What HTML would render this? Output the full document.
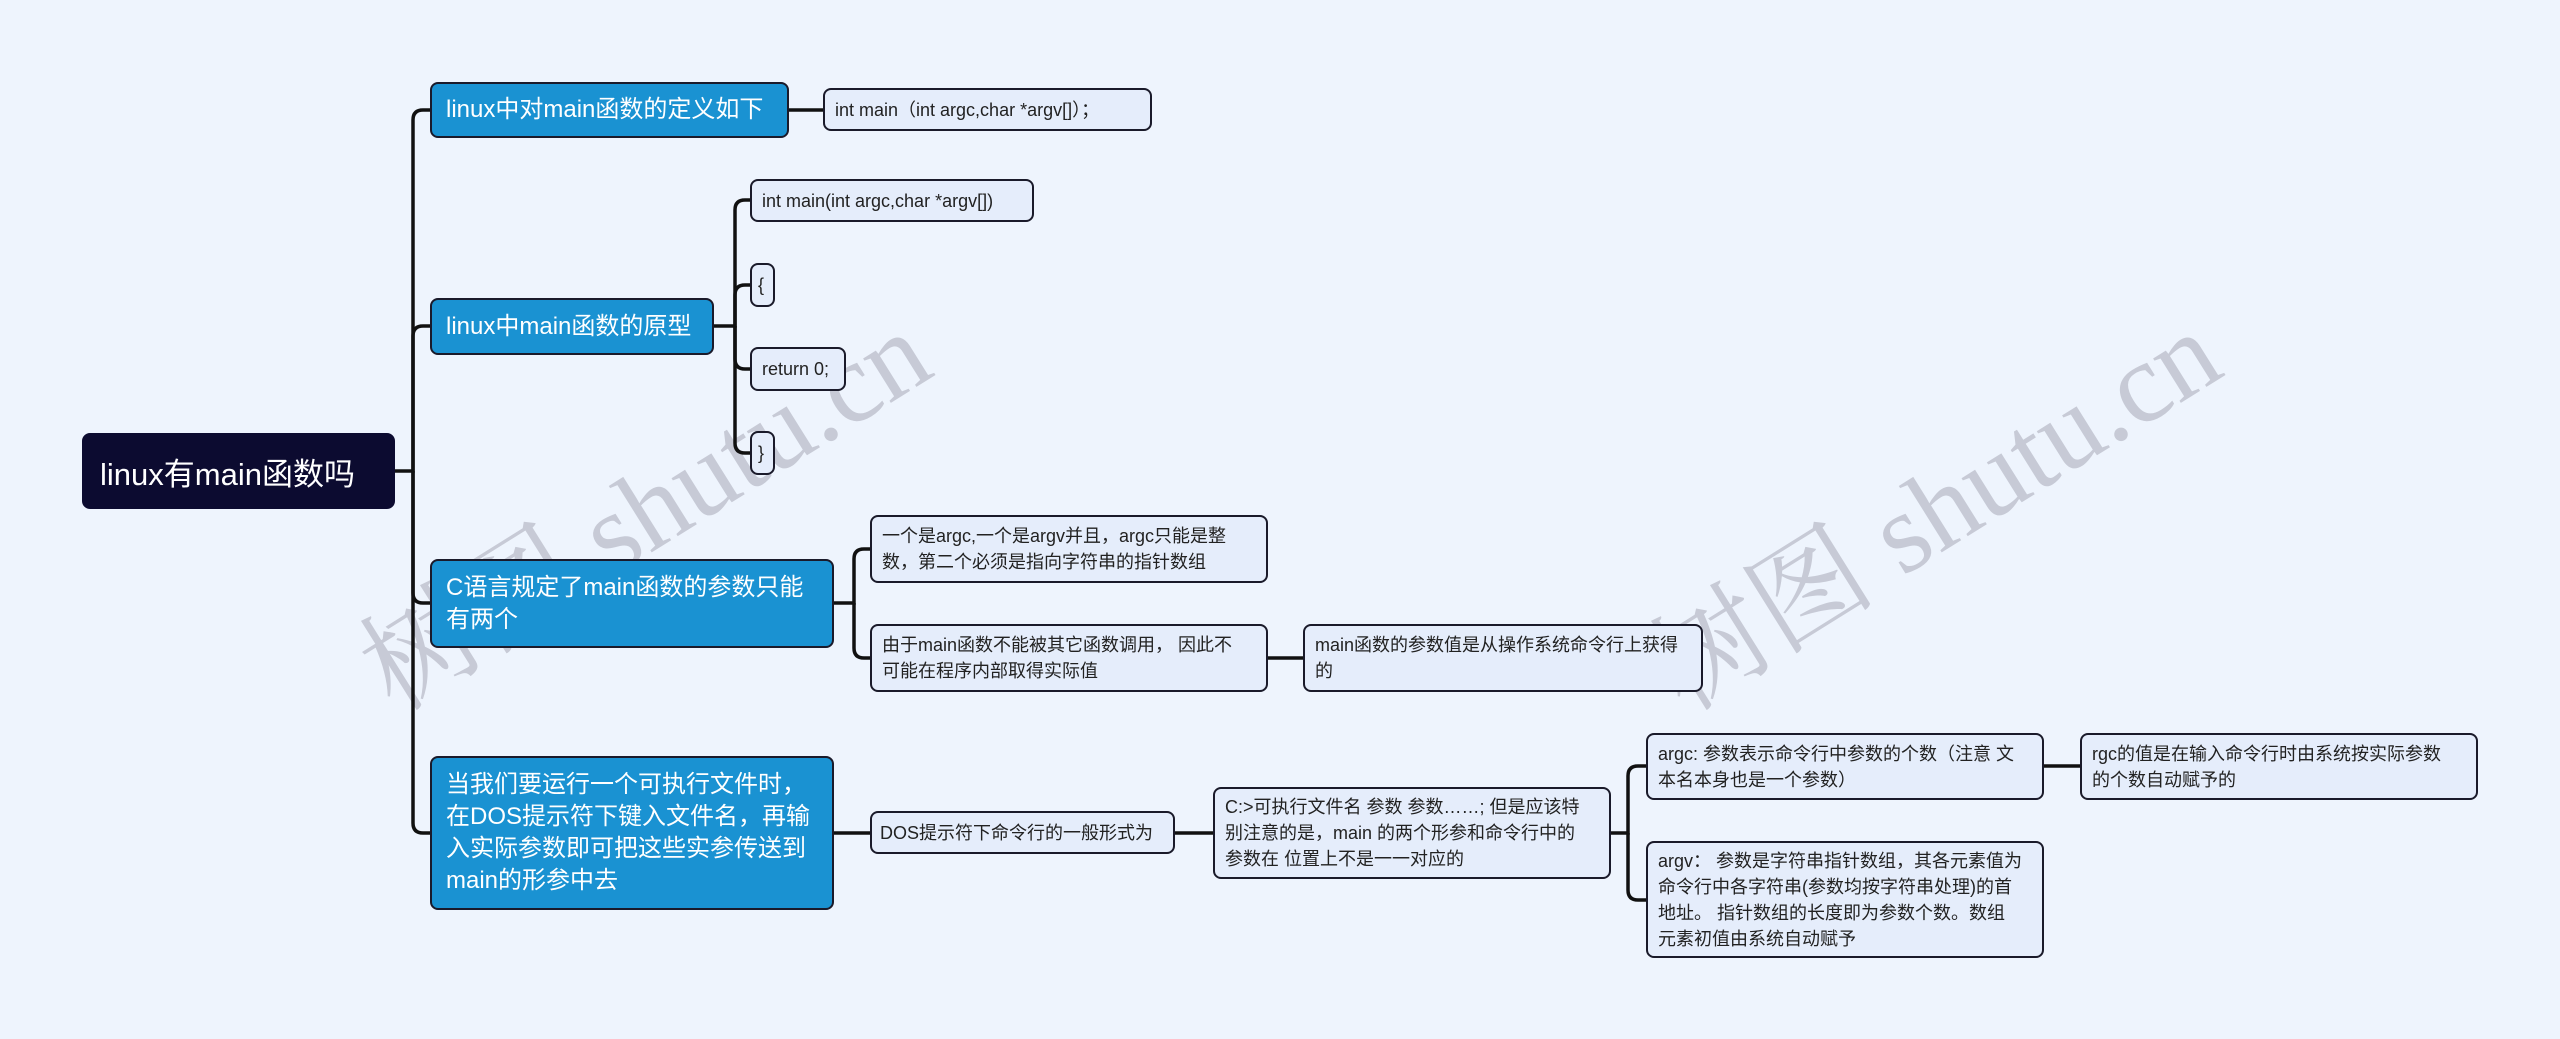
<!DOCTYPE html>
<html><head><meta charset="utf-8"><style>
body{margin:0;width:2560px;height:1039px;background:#eef4fd;position:relative;overflow:hidden;font-family:"Liberation Sans","Noto Sans CJK SC",sans-serif;}
.n{position:absolute;box-sizing:border-box;border:2px solid #1a1a2a;border-radius:8px;display:flex;align-items:center;}
.r{background:#0c0b30;color:#fff;font-size:31px;padding-left:16px;border-color:#0c0b30;}
.l1{background:#1a92d2;color:#fff;font-size:24px;line-height:32px;padding:0 14px;}
.c{background:#e5edfb;color:#222;font-size:18px;line-height:26px;padding:0 20px 0 10px;}
.wm{position:absolute;font-family:"Liberation Serif","Noto Serif CJK SC",serif;font-size:114px;color:rgba(140,140,155,0.4);transform:rotate(-32deg);white-space:nowrap;}
</style></head><body>
<div class="wm" style="left:320px;top:420px;">树图 shutu.cn</div>
<div class="wm" style="left:1610px;top:420px;">树图 shutu.cn</div>
<svg width="2560" height="1039" style="position:absolute;left:0;top:0" fill="none" stroke="#111" stroke-width="3.5">
<path d="M395 471H413V120Q413 110 423 110H431"/>
<path d="M413 471V336Q413 326 423 326H431"/>
<path d="M413 471V593Q413 603 423 603H431"/>
<path d="M413 471V823Q413 833 423 833H431"/>
<path d="M789 110H823"/>
<path d="M714 326H735V210Q735 200 745 200H750"/>
<path d="M735 326V295Q735 285 745 285H750"/>
<path d="M735 326V359Q735 369 745 369H750"/>
<path d="M735 326V443Q735 453 745 453H750"/>
<path d="M834 603H854V559Q854 549 864 549H870"/>
<path d="M854 603V648Q854 658 864 658H870"/>
<path d="M1268 658H1303"/>
<path d="M834 833H870"/>
<path d="M1175 833H1213"/>
<path d="M1611 833H1628V776Q1628 766 1638 766H1646"/>
<path d="M1628 833V890Q1628 900 1638 900H1646"/>
<path d="M2044 766H2080"/>
</svg>
<div class="n r" style="left:82px;top:433px;width:313px;height:76px;">linux有main函数吗</div>
<div class="n l1" style="left:430px;top:82px;width:359px;height:56px;">linux中对main函数的定义如下</div>
<div class="n c" style="left:823px;top:88px;width:329px;height:43px;">int main（int argc,char *argv[]）；</div>
<div class="n l1" style="left:430px;top:298px;width:284px;height:57px;">linux中main函数的原型</div>
<div class="n c" style="left:750px;top:179px;width:284px;height:43px;">int main(int argc,char *argv[])</div>
<div class="n c" style="left:750px;top:263px;width:25px;height:44px;padding:0 6px;">{</div>
<div class="n c" style="left:750px;top:347px;width:96px;height:44px;padding:0 10px;">return 0;</div>
<div class="n c" style="left:750px;top:431px;width:25px;height:44px;padding:0 6px;">}</div>
<div class="n l1" style="left:430px;top:559px;width:404px;height:89px;">C语言规定了main函数的参数只能有两个</div>
<div class="n c" style="left:870px;top:515px;width:398px;height:68px;">一个是argc,一个是argv并且，argc只能是整数，第二个必须是指向字符串的指针数组</div>
<div class="n c" style="left:870px;top:624px;width:398px;height:68px;">由于main函数不能被其它函数调用， 因此不可能在程序内部取得实际值</div>
<div class="n c" style="left:1303px;top:624px;width:400px;height:68px;">main函数的参数值是从操作系统命令行上获得的</div>
<div class="n l1" style="left:430px;top:756px;width:404px;height:154px;">当我们要运行一个可执行文件时，在DOS提示符下键入文件名，再输入实际参数即可把这些实参传送到main的形参中去</div>
<div class="n c" style="left:870px;top:811px;width:305px;height:43px;padding:0 8px;">DOS提示符下命令行的一般形式为</div>
<div class="n c" style="left:1213px;top:787px;width:398px;height:92px;">C:&gt;可执行文件名 参数 参数……; 但是应该特别注意的是，main 的两个形参和命令行中的参数在 位置上不是一一对应的</div>
<div class="n c" style="left:1646px;top:733px;width:398px;height:67px;">argc: 参数表示命令行中参数的个数（注意 文本名本身也是一个参数）</div>
<div class="n c" style="left:2080px;top:733px;width:398px;height:67px;">rgc的值是在输入命令行时由系统按实际参数的个数自动赋予的</div>
<div class="n c" style="left:1646px;top:841px;width:398px;height:117px;">argv： 参数是字符串指针数组，其各元素值为命令行中各字符串(参数均按字符串处理)的首地址。 指针数组的长度即为参数个数。数组元素初值由系统自动赋予</div>
</body></html>
